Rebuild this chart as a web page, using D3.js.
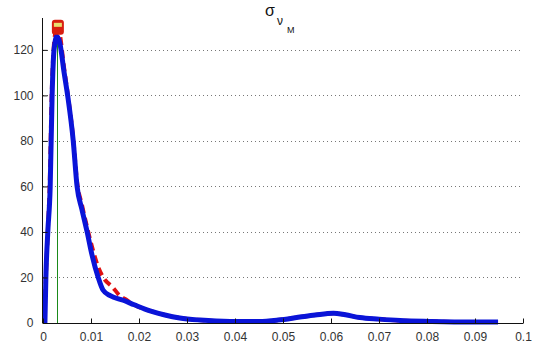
<!DOCTYPE html>
<html><head><meta charset="utf-8">
<script src="https://cdn.jsdelivr.net/npm/d3@7"></script>
<style>body{margin:0;background:#fff}svg{display:block}text{font-family:"Liberation Sans",Arial,sans-serif}</style>
</head><body><svg id="c" width="537" height="348"></svg>
<script>
const blueX = [0.0004,0.0006,0.001,0.0015,0.0019,0.0023,0.0029,0.0035,0.0044,0.0052,0.0063,0.0071,0.0081,0.0092,0.0102,0.0115,0.0125,0.014,0.0167,0.019,0.0223,0.0254,0.0285,0.0327,0.039,0.045,0.049,0.0535,0.0567,0.0605,0.063,0.066,0.070,0.0744,0.0806,0.089,0.0948];
const blueY = [0,20,40,60,100,120,126,123,110,99,80,60,50,40,30,20,14.5,12,10,8,5.3,3.5,2.2,1.3,0.7,0.7,1.3,2.6,3.5,4.3,3.6,2.4,1.7,1.1,0.7,0.4,0.4];
const redX = [0.0003,0.0006,0.001,0.0014,0.0018,0.0022,0.0026,0.003,0.0035,0.0044,0.0052,0.0063,0.0071,0.0081,0.0092,0.0104,0.0115,0.0129,0.0144,0.016,0.0175,0.019,0.0223,0.0254,0.0285,0.0327,0.039,0.045,0.049,0.0535,0.0567,0.0605,0.063,0.066,0.070,0.0744,0.0806,0.089,0.0948];
const redY = [0,20,40,62,100,120,128,131,127,112,100,81,62,52,42,32,24.6,19,16,12,10,8,5.3,3.5,2.2,1.3,0.7,0.7,1.3,2.6,3.5,4.3,3.6,2.4,1.7,1.1,0.7,0.4,0.4];
const vLineX = 0.00285;
const xTicks = [0,0.01,0.02,0.03,0.04,0.05,0.06,0.07,0.08,0.09,0.1];
const xTickLabels = ["0","0.01","0.02","0.03","0.04","0.05","0.06","0.07","0.08","0.09","0.1"];
const yTicks = [0,20,40,60,80,100,120];
const markerX = [0.0031];
const markerY = [131];

const svg = d3.select("#c");
const x = d3.scaleLinear().domain([0,0.1]).range([43,523]);
const y = d3.scaleLinear().domain([0,134]).range([323,18]);

svg.append("g").selectAll("line").data(yTicks.filter(d=>d>0)).join("line")
  .attr("x1",x(0)).attr("x2",x(0.1)).attr("y1",d=>Math.round(y(d))+0.5).attr("y2",d=>Math.round(y(d))+0.5)
  .attr("stroke","#777").attr("stroke-width",1).attr("stroke-dasharray","1,3");

svg.append("line").attr("x1",Math.round(x(vLineX))+0.5).attr("x2",Math.round(x(vLineX))+0.5)
  .attr("y1",y(0)).attr("y2",y(130)).attr("stroke","#1a8a1a").attr("stroke-width",1);

const line = d3.line().curve(d3.curveMonotoneX);
svg.append("path").attr("d",line(redX.map((v,i)=>[x(v),y(redY[i])])))
  .attr("fill","none").attr("stroke","#e01010").attr("stroke-width",4).attr("stroke-dasharray","8,5");
svg.append("path").attr("d",line(blueX.map((v,i)=>[x(v),y(blueY[i])])))
  .attr("fill","none").attr("stroke","#0a14d8").attr("stroke-width",5).attr("stroke-linejoin","round");

svg.append("g").selectAll("rect").data(markerX).join("rect")
  .attr("x",(d)=>x(d)-6).attr("y",(d,i)=>y(markerY[i])-5).attr("width",12).attr("height",15).attr("rx",3)
  .attr("fill","#d81e10");
svg.append("g").selectAll("rect").data(markerX).join("rect")
  .attr("x",(d)=>x(d)-4).attr("y",(d,i)=>y(markerY[i])-2).attr("width",8).attr("height",4)
  .attr("fill","#e8e070");

const xAxis = d3.axisBottom(x).tickValues(xTicks).tickFormat((d,i)=>xTickLabels[i]).tickSizeInner(-5).tickSizeOuter(0).tickPadding(9);
const gx = svg.append("g").attr("transform","translate(0,323.5)").call(xAxis);
const yAxis = d3.axisLeft(y).tickValues(yTicks).tickSizeInner(-5).tickSizeOuter(0).tickPadding(9);
const gy = svg.append("g").attr("transform","translate(42.5,0)").call(yAxis);
[gx,gy].forEach(g=>{
  g.select(".domain").attr("stroke","#111");
  g.selectAll(".tick line").attr("stroke","#111");
  g.selectAll("text").attr("font-size",12).attr("fill","#333").attr("font-family","Liberation Sans, Arial, sans-serif");
});
gy.select(".domain").attr("d","M0,"+y(0)+"V18");
gx.select(".domain").attr("d","M"+x(0)+",0H"+x(0.1));

const t = svg.append("g").attr("fill","#111");
t.append("text").attr("x",265).attr("y",16).attr("font-size",16).text("σ");
t.append("text").attr("x",277).attr("y",25).attr("font-size",12).text("ν");
t.append("text").attr("x",287).attr("y",33).attr("font-size",9).text("M");
</script></body></html>
